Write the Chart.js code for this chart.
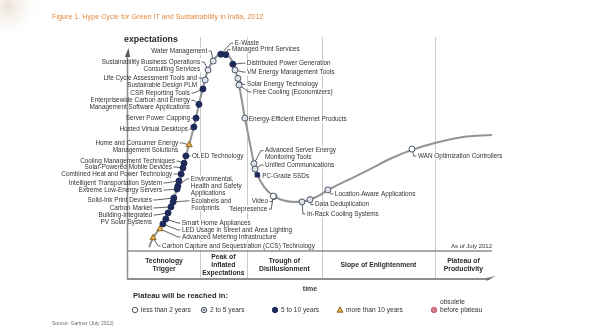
<!DOCTYPE html>
<html>
<head>
<meta charset="utf-8">
<script src="https://cdn.jsdelivr.net/npm/chart.js@4.4.1/dist/chart.umd.min.js"></script>
<style>
  html, body { margin: 0; padding: 0; background: #fff; }
  #wrap { width: 596px; height: 336px; }
</style>
</head>
<body>
<div id="wrap"><canvas id="c" width="596" height="336"></canvas></div>
<script>
// hype curve: time 0..100 across the phase band, expectations 0..100
const curveTime = [5.8, 6.9, 8.8, 10.4, 12.1, 13.7, 15.1, 16.2, 17.3, 18.4, 19.5, 20.6, 21.7, 23.1, 24.5, 25.8,
  27.2, 28.3, 29.1, 29.9, 30.5, 31.3, 32.1, 33.0, 33.8, 34.6, 35.7, 37.4, 39.6, 42.3, 45.6, 48.9, 52.2, 56.0,
  61.0, 66.5, 72.5, 78.0, 84.3, 92.0, 100]
const curveExpect = [1.9, 6.3, 11.1, 15.9, 22.6, 31.3, 39.9, 47.6, 54.3, 62.0, 70.7, 78.4, 85.6, 90.9, 93.8, 94.7,
  94.2, 92.3, 88.9, 84.6, 79.8, 72.1, 63.9, 56.3, 49.0, 42.3, 36.1, 30.8, 26.9, 24.5, 23.6, 24.0, 26.4, 30.3,
  34.6, 39.4, 44.7, 48.6, 51.9, 54.8, 55.8]

const phaseNames = ["Technology\nTrigger", "Peak of\nInflated\nExpectations", "Trough of\nDisillusionment",
  "Slope of Enlightenment", "Plateau of\nProductivity"]
const phaseEnds = [19.8, 32.6, 53.3, 84.3, 100]

const techNames = [
  "E-Waste", "Managed Print Services", "Water Management",
  "Sustainability Business Operations\nConsulting Services",
  "Life Cycle Assessment Tools and\nSustainable Design PLM", "CSR Reporting Tools",
  "Enterprisewide Carbon and Energy\nManagement Software Applications", "Server Power Capping",
  "Hosted Virtual Desktops", "Home and Consumer Energy\nManagement Solutions", "OLED Technology",
  "Cooling Management Techniques", "Solar-Powered Mobile Devices", "Combined Heat and Power Technology",
  "Intelligent Transportation System", "Environmental,\nHealth and Safety\nApplications",
  "Extreme Low-Energy Servers", "Solid-Ink Print Devices", "Ecolabels and\nFootprints", "Carbon Market",
  "Building-Integrated\nPV Solar Systems", "Smart Home Appliances", "LED Usage in Street and Area Lighting",
  "Advanced Metering Infrastructure", "Carbon Capture and Sequestration (CCS) Technology",
  "Distributed Power Generation", "VM Energy Management Tools", "Solar Energy Technology",
  "Free Cooling (Economizers)", "Energy-Efficient Ethernet Products",
  "Advanced Server Energy\nMonitoring Tools", "Unified Communications", "PC-Grade SSDs", "Video",
  "Telepresence", "In-Rack Cooling Systems", "Data Deduplication", "Location-Aware Applications",
  "WAN Optimization Controllers"]
const techTime = [25.5, 26.9, 23.4, 22.0, 21.2, 20.6, 19.5, 18.7, 18.1, 16.8, 15.9, 15.4, 15.1, 14.6, 14.0,
  13.7, 13.5, 12.6, 12.4, 11.8, 11.0, 10.4, 9.6, 8.8, 6.9, 28.8, 29.4, 30.2, 30.5, 32.1, 34.6, 34.9, 35.5,
  40.1, 39.9, 47.8, 50.0, 54.9, 78.0]
const techExpect = [94.6, 94.4, 91.3, 87.0, 82.2, 77.9, 70.5, 63.9, 59.6, 51.0, 45.7, 42.2, 39.9, 37.0, 33.7,
  31.3, 29.8, 25.5, 23.6, 21.2, 18.3, 15.4, 13.0, 10.6, 6.3, 89.8, 87.0, 83.0, 79.8, 63.9, 42.0, 39.4, 36.6,
  26.2, 26.4, 23.6, 24.7, 29.4, 49.0]
// years to plateau: 0 <2, 1 2-5, 2 5-10, 3 >10, 4 obsolete
const techPlateau = [2, 2, 1, 1, 1, 2, 2, 2, 2, 3, 2, 2, 2, 2, 2, 2, 2, 2, 2, 2, 2, 2, 2, 3, 3, 2, 1, 1, 1, 1,
  1, 1, 2, 0, 0, 1, 1, 1, 0]

const plateauLabels = ["less than 2 years", "2 to 5 years", "5 to 10 years", "more than 10 years",
  "obsolete\nbefore plateau"]

// label placement relative to marker (side, dx, dy in px)
const labelSide = ["r", "r", "l", "l", "l", "l", "l", "l", "l", "l", "r", "l", "l", "l", "l", "r", "l", "l", "r",
  "l", "l", "r", "r", "r", "r", "r", "r", "r", "r", "r", "r", "r", "r", "l", "l", "r", "r", "r", "r"]
const labelDx = [14, 6, -6, -8, -8, -13, -9, -6, -6, -11, 6, -9, -11, -9, -17, 13, -15, -22, 18, -19, -16, 16,
  19, 22, 9, 14, 12, 9, 14, 4, 11, 10, 5, -6, -6, 5, 5, 7, 6]
const labelDy = [-11, -5, -10, -8, -2, 4, -4, 0, 2, -2, 0, -2, -1, 0, 2, -7, 1, 2, -1, 1, 2, 4, 6, 8, 8, -1, 2,
  6, 7, 1, -13, -4, 1, 5, 13, 12, 5, 4, 7]
const squareMarks = ["PC-Grade SSDs"]

const FONT = '"Liberation Sans", Arial, sans-serif'
const INK = "#333333"
const GRID = "#c9c9c9"
const AXIS = "#8e8e8e"
const LABEL_SIZE = 6.4
const LABEL_LH = 7
const markFill = ["#ffffff", "#dfe3ea", "#1e2b5a", "#e2b04a", "#d87a8c"]
const markBorder = ["#4d5668", "#4d5668", "#1e2b5a", "#8a6624", "#c25a70"]

function write(ctx, str, x, y, size, opts = {}) {
  ctx.save()
  ctx.font = (opts.bold ? "bold " : "") + size + "px " + FONT
  ctx.fillStyle = opts.color || INK
  ctx.textAlign = opts.align || "left"
  ctx.textBaseline = "middle"
  const lh = opts.lh || size * 1.15
  str.split("\n").forEach((line, i) => ctx.fillText(line, x, y + i * lh))
  ctx.restore()
}

function mark(ctx, kind, x, y, r) {
  ctx.save()
  ctx.fillStyle = markFill[kind]
  ctx.strokeStyle = markBorder[kind]
  ctx.lineWidth = 1
  ctx.beginPath()
  if (kind === 3) {
    ctx.moveTo(x, y - r * 1.2)
    ctx.lineTo(x + r * 1.1, y + r * 0.8)
    ctx.lineTo(x - r * 1.1, y + r * 0.8)
    ctx.closePath()
  } else {
    ctx.arc(x, y, r, 0, Math.PI * 2)
  }
  ctx.fill()
  ctx.stroke()
  if (kind === 1) {
    ctx.fillStyle = "#4d5668"
    ctx.beginPath()
    ctx.arc(x, y, r * 0.35, 0, Math.PI * 2)
    ctx.fill()
  }
  ctx.restore()
}

function labelAnchor(scales, i) {
  const mx = scales.x.getPixelForValue(techTime[i])
  const my = scales.y.getPixelForValue(techExpect[i])
  return { mx, my, ax: mx + labelDx[i], ay: my + labelDy[i], right: labelSide[i] === "r" }
}

const hypeFrame = {
  id: "hypeFrame",
  beforeDatasetsDraw(chart) {
    const { ctx, chartArea: a, scales } = chart
    const bandTop = a.bottom
    const bandBottom = a.bottom + 28

    // soft corner shade
    const g = ctx.createRadialGradient(8, 6, 0, 8, 6, 34)
    g.addColorStop(0, "rgba(232,222,208,0.9)")
    g.addColorStop(1, "rgba(255,255,255,0)")
    ctx.fillStyle = g
    ctx.fillRect(0, 0, 50, 45)

    ctx.save()
    // phase dividers
    ctx.strokeStyle = GRID
    ctx.lineWidth = 1
    phaseEnds.slice(0, -1).forEach(t => {
      const x = Math.round(scales.x.getPixelForValue(t)) + 0.5
      ctx.beginPath()
      ctx.moveTo(x, a.top - 6)
      ctx.lineTo(x, bandBottom)
      ctx.stroke()
    })

    // white boxes behind labels hide the dividers
    ctx.font = LABEL_SIZE + "px " + FONT
    ctx.fillStyle = "#ffffff"
    techNames.forEach((name, i) => {
      const p = labelAnchor(scales, i)
      const lines = name.split("\n")
      const w = Math.max(...lines.map(l => ctx.measureText(l).width))
      const x0 = p.right ? p.ax : p.ax - w
      ctx.fillRect(x0 - 1, p.ay - 3.5, w + 2, (lines.length - 1) * LABEL_LH + 7)
    })

    // axis and band
    ctx.strokeStyle = AXIS
    ctx.lineWidth = 1.5
    ctx.beginPath()
    ctx.moveTo(a.left - 0.5, a.top + 13)
    ctx.lineTo(a.left - 0.5, bandBottom)
    ctx.moveTo(a.left, bandTop)
    ctx.lineTo(a.right, bandTop)
    ctx.stroke()
    ctx.lineWidth = 2
    ctx.beginPath()
    ctx.moveTo(a.left - 1, bandBottom)
    ctx.lineTo(a.right - 2, bandBottom)
    ctx.stroke()
    ctx.fillStyle = "#777"
    ctx.beginPath()
    ctx.moveTo(a.right + 4, bandBottom - 3)
    ctx.lineTo(a.right - 6, bandBottom - 1)
    ctx.lineTo(a.right - 6, bandBottom + 2)
    ctx.closePath()
    ctx.fill()
    ctx.fillStyle = "#555"
    ctx.beginPath()
    ctx.moveTo(a.left + 0.5, a.top + 5)
    ctx.lineTo(a.left + 2, a.top + 14)
    ctx.lineTo(a.left - 3, a.top + 14)
    ctx.closePath()
    ctx.fill()

    // leader lines
    ctx.strokeStyle = "#3a3a3a"
    ctx.lineWidth = 0.8
    techNames.forEach((name, i) => {
      const p = labelAnchor(scales, i)
      const s = p.right ? -1 : 1
      ctx.beginPath()
      ctx.moveTo(p.mx, p.my)
      ctx.lineTo(p.ax + s * 4, p.ay)
      ctx.lineTo(p.ax + s * 1.5, p.ay)
      ctx.stroke()
    })
    ctx.restore()
  },
  afterDatasetsDraw(chart) {
    const { ctx, chartArea: a, scales } = chart
    const bandTop = a.bottom
    const bandBottom = a.bottom + 28

    write(ctx, "Figure 1. Hype Cycle for Green IT and Sustainability in India, 2012", 52, 17, 7.2,
      { color: "#e3893f" })
    write(ctx, "expectations", 124, 40, 8.8, { bold: true, color: "#2a2a2a" })

    techNames.forEach((name, i) => {
      const p = labelAnchor(scales, i)
      write(ctx, name, p.ax, p.ay, LABEL_SIZE, { align: p.right ? "left" : "right", lh: LABEL_LH })
    })

    // phase names in the band
    let prev = 0
    phaseNames.forEach((ph, i) => {
      const x0 = scales.x.getPixelForValue(prev)
      const x1 = scales.x.getPixelForValue(phaseEnds[i])
      const lines = ph.split("\n").length
      const y = (bandTop + bandBottom) / 2 - (lines - 1) * 4
      write(ctx, ph, (x0 + x1) / 2, y, 6.8, { bold: true, align: "center", lh: 8, color: "#2a2a2a" })
      prev = phaseEnds[i]
    })
    write(ctx, "As of July 2012", a.right, bandTop - 5, 6, { align: "right" })
    write(ctx, "time", 310, bandBottom + 10, 7, { bold: true, align: "center", color: "#444" })

    // plateau legend
    write(ctx, "Plateau will be reached in:", 133, 296, 7.6, { bold: true, color: "#2a2a2a" })
    const legendX = [135, 204, 275, 340, 434]
    plateauLabels.forEach((lab, k) => {
      mark(ctx, k, legendX[k], 310, 2.7)
      const y = k === 4 ? 302 : 310
      write(ctx, lab, legendX[k] + 6, y, 6.6, { lh: 8 })
    })
    write(ctx, "Source: Gartner (July 2012)", 52, 324, 5, { color: "#6a6a6a" })
  }
}

const markerSets = plateauLabels.map((lab, k) => {
  const idx = techNames.map((n, i) => i).filter(i => techPlateau[i] === k)
  return {
    label: lab,
    order: 1,
    data: idx.map(i => ({ x: techTime[i], y: techExpect[i], name: techNames[i] })),
    pointStyle: ctx => {
      if (k === 3) return "triangle"
      const raw = ctx.raw
      return raw && squareMarks.includes(raw.name) ? "rect" : "circle"
    },
    pointRadius: k === 3 ? 3.6 : 3,
    pointBackgroundColor: markFill[k],
    pointBorderColor: markBorder[k],
    pointBorderWidth: 1,
    showLine: false
  }
})

const curveSet = {
  label: "curve",
  order: 10,
  data: curveTime.map((t, i) => ({ x: t, y: curveExpect[i] })),
  showLine: true,
  borderColor: "#939393",
  borderWidth: 2,
  pointRadius: 0,
  cubicInterpolationMode: "monotone",
  fill: false
}

new Chart(document.getElementById("c"), {
  type: "scatter",
  data: { datasets: [...markerSets, curveSet] },
  options: {
    responsive: false,
    animation: false,
    devicePixelRatio: 1,
    layout: { padding: { left: 128, right: 104, top: 43, bottom: 85 } },
    scales: {
      x: { type: "linear", min: 0, max: 100, display: false },
      y: { type: "linear", min: 0, max: 100, display: false }
    },
    plugins: { legend: { display: false }, tooltip: { enabled: false } },
    events: []
  },
  plugins: [hypeFrame]
})
</script>
</body>
</html>
